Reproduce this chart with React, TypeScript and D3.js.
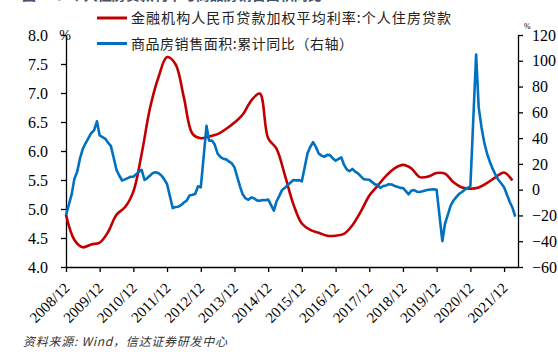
import React, { useEffect, useRef } from "react";
import * as d3 from "d3";

// 金融机构人民币贷款加权平均利率:个人住房贷款 (季度, %), 2008/12 起每 3 个月一个点
const rateStart = "2008-12";
const rateValues = [
  4.9, 4.47, 4.34, 4.39, 4.42, 4.6, 4.9, 5.03, 5.3, 5.95, 6.75, 7.28, 7.62, 7.5,
  6.92, 6.3, 6.22, 6.25, 6.29, 6.38, 6.49, 6.63, 6.87, 6.99, 6.22, 6.04, 5.58,
  5.08, 4.75, 4.64, 4.59, 4.54, 4.54, 4.57, 4.72, 4.96, 5.23, 5.4, 5.57, 5.7,
  5.76, 5.7, 5.55, 5.56, 5.62, 5.61, 5.46, 5.37, 5.35, 5.37, 5.45, 5.55, 5.63,
  5.49,
];

// 商品房销售面积:累计同比 (%), 每年 2-12 月 (1 月无数据)
const salesFirst = { month: "2008-12", value: -19.7 };
const salesYears = [2009, 2010, 2011, 2012, 2013, 2014, 2015, 2016, 2017, 2018, 2019, 2020, 2021, 2022];
const salesYoY: number[][] = [
  [-3.5, 8.2, 13.8, 24, 31.7, 36, 40, 44, 46, 53, 42.1],
  [39.5, 36.5, 34, 25, 15.4, 11, 7.1, 8, 9, 10, 10.1],
  [14, 15.3, 7.5, 9, 11, 13, 13.5, 12.7, 11, 8, 4.4],
  [-14.3, -13.5, -13.2, -12, -10, -8.5, -4.5, -4, -3.4, 2.6, 1.8],
  [49.5, 38, 38.2, 35, 28, 25.5, 24, 23.5, 22, 20.5, 17.3],
  [2, -3.8, -6.8, -7.8, -6, -6.7, -8.3, -8.6, -8, -8.2, -7.6],
  [-16.3, -9.2, -4.8, -0.2, 1.5, 3.5, 5.5, 7.5, 7.2, 7.4, 6.5],
  [28.2, 33.1, 36.9, 33.2, 28, 26.4, 25.5, 27, 26.8, 24.3, 22.5],
  [25.1, 19.5, 15.7, 14.3, 16.1, 14, 12.7, 10.3, 8.2, 7.9, 7.7],
  [4.1, 3.6, 1.3, 2.9, 3.3, 4.2, 4, 2.9, 2.2, 1.4, 1.3],
  [-3.6, -0.9, -0.3, -1.6, -1.8, -1.3, -0.6, -0.1, 0.1, 0.2, -0.1],
  [-39.9, -26.3, -19.3, -12.3, -8.4, -5.8, -3.3, -1.8, 0, 1.3, 2.6],
  [104.9, 63.8, 48.1, 36.3, 27.7, 21.5, 15.9, 11.3, 7.5, 4.8, 1.9],
  [-9.6, -13.8, -20.9],
];

const tickYears = d3.range(2008, 2022);
const leftTicks = [4.0, 4.5, 5.0, 5.5, 6.0, 6.5, 7.0, 7.5, 8.0];
const rightTicks = [-60, -40, -20, 0, 20, 40, 60, 80, 100, 120];

const legendItems = [
  { label: "金融机构人民币贷款加权平均利率:个人住房贷款", color: "#C00000", len: 320 },
  { label: "商品房销售面积:累计同比（右轴）", color: "#0070C0", len: 222 },
];

const parseMonth = d3.timeParse("%Y-%m");

const App: React.FC = () => {
  const ref = useRef<SVGSVGElement>(null);

  useEffect(() => {
    if (!ref.current) return;
    const svg = d3.select(ref.current);
    svg.selectAll("*").remove();

    const left = 66, right = 518, top = 35, bottom = 267;
    const serif = "'Liberation Serif', 'Times New Roman', serif";
    const cjk = "'Noto Sans CJK SC', sans-serif";

    const x = d3
      .scaleTime()
      .domain([new Date(2008, 11, 1), new Date(2022, 4, 1)])
      .range([left, right]);
    const yL = d3.scaleLinear().domain([4, 8]).range([bottom, top]);
    const yR = d3.scaleLinear().domain([-60, 120]).range([bottom, top]);

    // data
    const start = parseMonth(rateStart) as Date;
    const rate = rateValues.map((v, i) => ({ date: d3.timeMonth.offset(start, i * 3), v }));
    const sales = [{ date: parseMonth(salesFirst.month) as Date, v: salesFirst.value }];
    salesYears.forEach((yr, i) => {
      salesYoY[i].forEach((v, j) => sales.push({ date: new Date(yr, j + 1, 1), v }));
    });

    // clipped title at the very top
    svg
      .append("text")
      .attr("x", 22)
      .attr("y", 0)
      .attr("font-family", cjk)
      .attr("font-size", 14)
      .attr("font-weight", "bold")
      .attr("fill", "#44546a")
      .text("图 17：个人住房贷款利率与商品房销售面积同比");

    // axes
    const axL = svg
      .append("g")
      .attr("transform", `translate(${left},0)`)
      .call(
        d3.axisLeft(yL).tickValues(leftTicks).tickFormat(d3.format(".1f")).tickSize(5).tickSizeOuter(0).tickPadding(13)
      );
    const axR = svg
      .append("g")
      .attr("transform", `translate(${right},0)`)
      .call(d3.axisRight(yR).tickValues(rightTicks).tickSize(5).tickSizeOuter(0).tickPadding(9));
    const axB = svg
      .append("g")
      .attr("transform", `translate(0,${bottom})`)
      .call(
        d3
          .axisBottom(x)
          .tickValues(tickYears.map((yr) => new Date(yr, 11, 1)))
          .tickFormat((d) => `${(d as Date).getFullYear()}/12`)
          .tickSize(5)
          .tickSizeOuter(0)
      );

    [axL, axR, axB].forEach((g) => {
      g.selectAll("path, line").attr("stroke", "#000").attr("stroke-width", 1.3);
      g.selectAll("text").attr("font-family", serif).attr("fill", "#000");
    });
    axL.selectAll("text").attr("font-size", 16);
    axR.selectAll("text").attr("font-size", 16);
    axB
      .selectAll("text")
      .attr("font-size", 15)
      .attr("text-anchor", "end")
      .attr("dy", null)
      .attr("y", null)
      .attr("transform", "translate(4,22) rotate(-45)");

    // units
    svg.append("text").attr("x", 65).attr("y", 40).attr("text-anchor", "middle")
      .attr("font-family", serif).attr("font-size", 14).text("%");
    svg.append("text").attr("x", 524).attr("y", 29)
      .attr("font-family", serif).attr("font-size", 8).text("%");

    // lines
    svg
      .append("path")
      .datum(rate)
      .attr("fill", "none")
      .attr("stroke", "#C00000")
      .attr("stroke-width", 2.6)
      .attr("stroke-linejoin", "round")
      .attr(
        "d",
        d3
          .line<{ date: Date; v: number }>()
          .x((d) => x(d.date))
          .y((d) => yL(d.v))
          .curve(d3.curveCatmullRom.alpha(0.5))
      );

    svg
      .append("path")
      .datum(sales)
      .attr("fill", "none")
      .attr("stroke", "#0070C0")
      .attr("stroke-width", 2.6)
      .attr("stroke-linejoin", "round")
      .attr(
        "d",
        d3
          .line<{ date: Date; v: number }>()
          .x((d) => x(d.date))
          .y((d) => yR(d.v))
      );

    // legend
    legendItems.forEach((it, i) => {
      const ly = 18 + i * 25.5;
      svg.append("line").attr("x1", 97).attr("x2", 127).attr("y1", ly).attr("y2", ly)
        .attr("stroke", it.color).attr("stroke-width", 3);
      svg
        .append("text")
        .attr("x", 131)
        .attr("y", ly + 5)
        .attr("font-family", cjk)
        .attr("font-size", 14)
        .attr("fill", "#222")
        .attr("textLength", it.len)
        .attr("lengthAdjust", "spacing")
        .text(it.label);
    });

    // source
    svg
      .append("text")
      .attr("x", 23)
      .attr("y", 346)
      .attr("font-family", cjk)
      .attr("font-size", 12)
      .attr("font-style", "italic")
      .attr("fill", "#333")
      .attr("textLength", 204)
      .attr("lengthAdjust", "spacing")
      .text("资料来源: Wind，信达证券研发中心");
  }, []);

  return (
    <svg
      ref={ref}
      width={558}
      height={354}
      style={{ position: "absolute", left: 0, top: 0, background: "#fff" }}
    />
  );
};

export default App;
